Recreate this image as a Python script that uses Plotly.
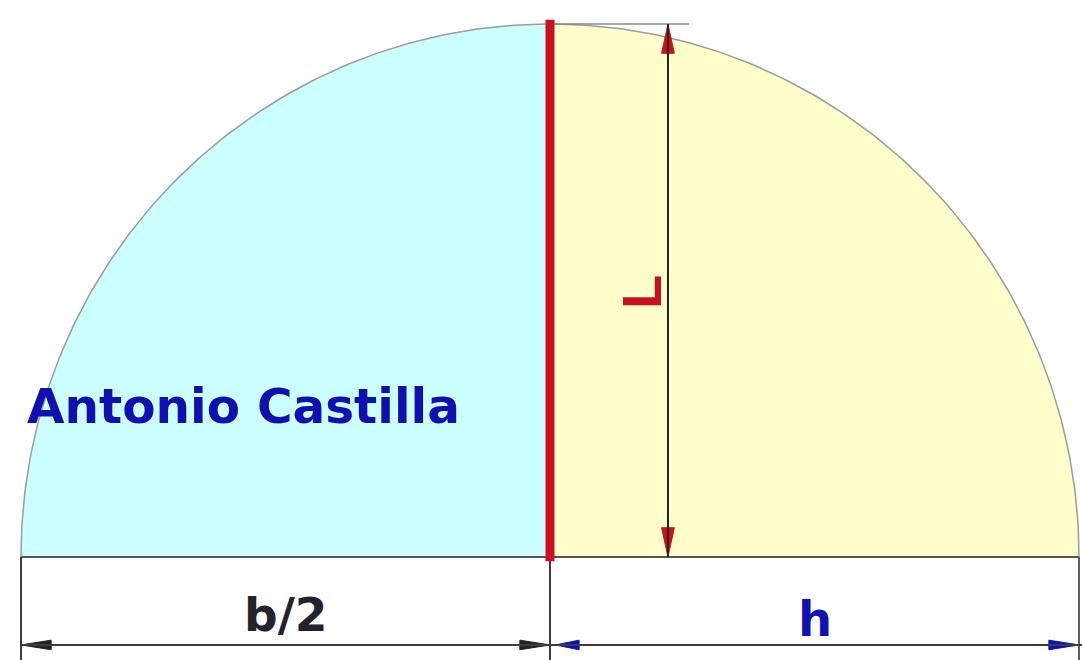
import numpy as np
import plotly.graph_objects as go

# ---- diagram values (units of b/2) ----
half_base = 1.0        # b/2 : left half of the base
h_len = 1.0            # h   : right half of the base
rise = 1.0             # height of the arc at the centre
L_x = 0.223            # where the L dimension line is drawn
L_len = 1.0            # length of the L dimension
dim_y = -0.165         # level of the lower dimension line
ext_bottom = -0.2      # bottom of the extension lines

label_texts = ["b/2", "h", "L", "Antonio Castilla"]
label_x = [-0.5, 0.5, 0.172, -0.9924]
label_y = [-0.108, -0.116, 0.497, 0.2833]

CYAN = "#ccffff"
YELLOW = "#ffffcc"
RED = "#c81020"
DARK = "#3c3c3c"
BLUE = "#1212b4"

fig = go.Figure()

# quarter fills
t_left = np.linspace(np.pi, np.pi / 2, 120)
t_right = np.linspace(np.pi / 2, 0, 120)
xl = list(half_base * np.cos(t_left)) + [0, -half_base]
yl = list(rise * np.sin(t_left)) + [0, 0]
xr = list(h_len * np.cos(t_right)) + [h_len, 0]
yr = list(rise * np.sin(t_right)) + [0, 0]
fig.add_trace(go.Scatter(x=xl, y=yl, fill="toself", fillcolor=CYAN, mode="lines",
                         line=dict(width=0, color=CYAN), hoverinfo="skip"))
fig.add_trace(go.Scatter(x=xr, y=yr, fill="toself", fillcolor=YELLOW, mode="lines",
                         line=dict(width=0, color=YELLOW), hoverinfo="skip"))

# arc outline
t_all = np.linspace(np.pi, 0, 240)
xa = np.where(np.cos(t_all) < 0, half_base, h_len) * np.cos(t_all)
fig.add_trace(go.Scatter(x=xa, y=rise * np.sin(t_all), mode="lines",
                         line=dict(width=1.5, color="#9c9c9c"), hoverinfo="skip"))

def line(x0, y0, x1, y1, color, width):
    fig.add_shape(type="line", x0=x0, y0=y0, x1=x1, y1=y1,
                  line=dict(color=color, width=width), layer="above")

# baseline
line(-half_base, 0, h_len, 0, "#555555", 2)
# top extension of L
line(0, rise, L_x + 0.04, rise, "#8a8a8a", 1.5)
# L dimension line
line(L_x, 0, L_x, L_len, "#222222", 2)
# extension lines at bottom
line(-half_base, 0, -half_base, ext_bottom, DARK, 2)
line(0, 0, 0, ext_bottom, DARK, 2)
line(h_len, 0, h_len, ext_bottom, "#5a5a7a", 2)
# lower dimension line
line(-half_base, dim_y, h_len + 0.01, dim_y, DARK, 2)
# red central line
line(0, -0.008, 0, rise + 0.008, RED, 9)

# arrowheads (tip position, direction)
def arrow_h(tip_x, y, direction, color, length=0.057, half_w=0.009):
    base = tip_x - direction * length
    fig.add_trace(go.Scatter(x=[tip_x, base, base, tip_x], y=[y, y + half_w, y - half_w, y],
                             fill="toself", fillcolor=color, mode="lines",
                             line=dict(width=1, color=color), hoverinfo="skip"))

def arrow_v(x, tip_y, direction, color, length=0.055, half_w=0.012):
    base = tip_y - direction * length
    fig.add_trace(go.Scatter(x=[x, x - half_w, x + half_w, x], y=[tip_y, base, base, tip_y],
                             fill="toself", fillcolor=color, mode="lines",
                             line=dict(width=1, color=color), hoverinfo="skip"))

arrow_h(-half_base, dim_y, -1, "#222222")
arrow_h(0, dim_y, 1, "#222222")
arrow_h(0.01, dim_y, -1, "#1010c0", length=0.045)
arrow_h(h_len, dim_y, 1, "#1010c0")
arrow_v(L_x, L_len, 1, RED)
arrow_v(L_x, 0, -1, RED)

# labels
fig.add_annotation(x=label_x[0], y=label_y[0], text="<b>" + label_texts[0] + "</b>",
                   showarrow=False,
                   font=dict(family="DejaVu Sans", size=47, color="#23232e"),
                   xanchor="center", yanchor="middle")
fig.add_annotation(x=label_x[1], y=label_y[1], text="<b>" + label_texts[1] + "</b>",
                   showarrow=False,
                   font=dict(family="DejaVu Sans", size=48, color=BLUE),
                   xanchor="center", yanchor="middle")
fig.add_annotation(x=label_x[2], y=label_y[2], text="<b>" + label_texts[2] + "</b>",
                   showarrow=False, textangle=-90,
                   font=dict(family="Liberation Sans", size=56, color=RED),
                   xanchor="center", yanchor="middle")
fig.add_annotation(x=label_x[3], y=label_y[3], text="<b>" + label_texts[3] + "</b>",
                   showarrow=False,
                   font=dict(family="DejaVu Sans", size=48.5, color="#1010b0"),
                   xanchor="left", yanchor="middle")

fig.update_layout(
    width=1082, height=660,
    margin=dict(l=0, r=0, t=0, b=0),
    paper_bgcolor="white", plot_bgcolor="white",
    showlegend=False,
    xaxis=dict(range=[-550 / 529, 532 / 529], visible=False, fixedrange=True),
    yaxis=dict(range=[-103 / 533, 557 / 533], visible=False, fixedrange=True),
)

fig.write_html(
    "out.html",
    config={"displayModeBar": False, "staticPlot": True},
    post_script="document.body.style.margin='0';document.body.style.overflow='hidden';",
)
